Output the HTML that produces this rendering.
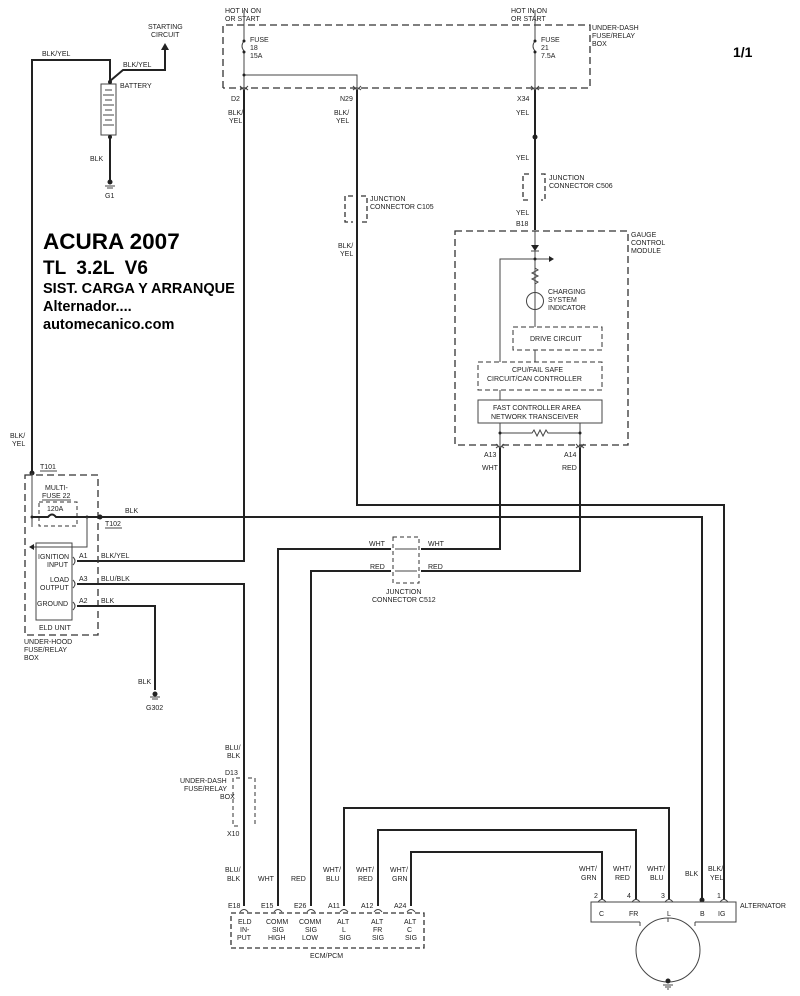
<!DOCTYPE html>
<html><head><meta charset="utf-8"><style>
html,body{margin:0;padding:0;background:#fff}
svg{display:block}
text{font-family:"Liberation Sans",sans-serif;font-size:7px;fill:#222}
.b{font-weight:bold;fill:#000}
.w{stroke:#222;stroke-width:2;fill:none}
.t{stroke:#444;stroke-width:1;fill:none}
.d{stroke:#333;stroke-width:1.3;fill:none;stroke-dasharray:7,4}
</style></head><body>
<svg width="800" height="996" viewBox="0 0 800 996" xmlns="http://www.w3.org/2000/svg">
<!-- title -->
<text x="43" y="249" class="b" style="font-size:22.5px">ACURA 2007</text>
<text x="43" y="274" class="b" style="font-size:19px" xml:space="preserve">TL  3.2L  V6</text>
<text x="43" y="293" class="b" style="font-size:14.5px">SIST. CARGA Y ARRANQUE</text>
<text x="43" y="311" class="b" style="font-size:14.5px">Alternador....</text>
<text x="43" y="329" class="b" style="font-size:14.5px">automecanico.com</text>
<text x="733" y="57" class="b" style="font-size:14px">1/1</text>

<!-- battery section -->
<path class="w" d="M32 473 V60 H110 V81"/>
<path class="w" d="M110 81 L123 70 H165 V48"/>
<polygon points="161,50 169,50 165,43" fill="#222"/>
<text x="148" y="29">STARTING</text><text x="151" y="37">CIRCUIT</text>
<text x="42" y="56">BLK/YEL</text>
<text x="123" y="67">BLK/YEL</text>
<rect x="101" y="84" width="15" height="51" class="t"/>
<path class="t" d="M105 90h7M103 95h11M105 100h7M103 105h11M105 110h7M103 115h11M105 120h7M103 125h11"/>
<text x="120" y="88">BATTERY</text>
<circle cx="110" cy="82" r="2" fill="#222"/>
<circle cx="110" cy="137" r="2" fill="#222"/>
<path class="w" d="M110 137 V180"/>
<text x="90" y="161">BLK</text>
<circle cx="110" cy="182" r="2.5" fill="#222"/><path class="t" d="M105 186h10M107 188h6"/>
<text x="105" y="198">G1</text>

<!-- under-dash box -->
<path class="d" d="M223 88 V25 H590 V88 H223"/>
<text x="225" y="13">HOT IN ON</text><text x="225" y="21">OR START</text>
<text x="511" y="13">HOT IN ON</text><text x="511" y="21">OR START</text>
<text x="592" y="30">UNDER-DASH</text><text x="592" y="38">FUSE/RELAY</text><text x="592" y="46">BOX</text>
<path class="t" d="M244 10 V40 M244 52 V88"/>
<path class="t" d="M244 41 q-4 5 0 10"/>
<circle cx="244" cy="41" r="1.5" fill="#222"/><circle cx="244" cy="52" r="1.5" fill="#222"/>
<text x="250" y="42">FUSE</text><text x="250" y="50">18</text><text x="250" y="58">15A</text>
<path class="t" d="M244 75 H357 V88"/><circle cx="244" cy="75" r="1.5" fill="#222"/>
<path class="t" d="M535 10 V40 M535 52 V88"/>
<path class="t" d="M535 41 q-4 5 0 10"/>
<circle cx="535" cy="41" r="1.5" fill="#222"/><circle cx="535" cy="52" r="1.5" fill="#222"/>
<text x="541" y="42">FUSE</text><text x="541" y="50">21</text><text x="541" y="58">7.5A</text>
<g class="t">
<path d="M240 86 l4 4 4-4 M240 90 q4-4 8 0"/>
<path d="M353 86 l4 4 4-4 M353 90 q4-4 8 0"/>
<path d="M531 86 l4 4 4-4 M531 90 q4-4 8 0"/>
</g>
<text x="231" y="101">D2</text><text x="340" y="101">N29</text><text x="517" y="101">X34</text>
<text x="228" y="115">BLK/</text><text x="229" y="123">YEL</text>
<text x="334" y="115">BLK/</text><text x="336" y="123">YEL</text>
<text x="516" y="115">YEL</text>

<path class="w" d="M244 90 V561 H77"/>
<path class="w" d="M357 90 V505 H724 V900"/>
<path class="d" d="M353 196 H345 V222 H353 M361 196 H367 V222 H361" style="stroke-dasharray:5,3"/>
<text x="370" y="201">JUNCTION</text><text x="370" y="209">CONNECTOR C105</text>
<text x="338" y="248">BLK/</text><text x="340" y="256">YEL</text>
<path class="w" d="M535 90 V230"/>
<circle cx="535" cy="137" r="2.5" fill="#222"/>
<text x="516" y="160">YEL</text>
<path class="d" d="M529 174 H523 V200 H529 M541 174 H545 V200 H541" style="stroke-dasharray:5,3"/>
<text x="549" y="180">JUNCTION</text><text x="549" y="188">CONNECTOR C506</text>
<text x="516" y="215">YEL</text><text x="516" y="226">B18</text>

<!-- gauge module -->
<path class="d" d="M455 231 H628 V445 H455 Z"/>
<text x="631" y="237">GAUGE</text><text x="631" y="245">CONTROL</text><text x="631" y="253">MODULE</text>
<path class="t" d="M535 231 V327"/>
<polygon points="531,245 539,245 535,251" fill="#222"/><path class="t" d="M531 251h8"/>
<path class="t" d="M500 362 V259 H550"/><polygon points="549,256 554,259 549,262" fill="#222"/>
<circle cx="535" cy="259" r="1.5" fill="#222"/>
<path class="t" d="M535 268 l3 2 -6 3 6 3 -6 3 6 3 -3 2" />
<circle cx="535" cy="301" r="8.5" class="t"/>
<text x="548" y="294">CHARGING</text><text x="548" y="302">SYSTEM</text><text x="548" y="310">INDICATOR</text>
<path class="d" d="M513 327 H602 V350 H513 Z" style="stroke-dasharray:5,3;stroke-width:1"/>
<text x="530" y="341">DRIVE CIRCUIT</text>
<path class="t" d="M535 350 V362"/>
<path class="d" d="M478 362 H602 V390 H478 Z" style="stroke-dasharray:5,3;stroke-width:1"/>
<text x="512" y="372">CPU/FAIL SAFE</text><text x="487" y="381">CIRCUIT/CAN CONTROLLER</text>
<path class="t" d="M500 390 V400"/>
<rect x="478" y="400" width="124" height="23" class="t"/>
<text x="493" y="410">FAST CONTROLLER AREA</text><text x="491" y="419">NETWORK TRANSCEIVER</text>
<path class="t" d="M500 423 V445 M580 423 V445 M500 433 H532 l2-3 3 6 3-6 3 6 3-6 2 3 H580"/>
<circle cx="500" cy="433" r="1.5" fill="#222"/><circle cx="580" cy="433" r="1.5" fill="#222"/>
<g class="t"><path d="M496 444 l4 4 4-4 M496 448 q4-4 8 0"/><path d="M576 444 l4 4 4-4 M576 448 q4-4 8 0"/></g>
<text x="484" y="457">A13</text><text x="564" y="457">A14</text>
<text x="482" y="470">WHT</text><text x="562" y="470">RED</text>
<path class="w" d="M500 448 V549 H421"/>
<path class="w" d="M580 448 V571 H421"/>
<path class="w" d="M391 549 H278 V906"/>
<path class="w" d="M391 571 H311 V906"/>
<path class="d" d="M393 537 H419 V583 H393 Z" style="stroke-dasharray:4,3;stroke-width:1"/>
<path class="t" d="M395 549 H417 M395 571 H417"/>
<text x="369" y="546">WHT</text><text x="428" y="546">WHT</text>
<text x="370" y="569">RED</text><text x="428" y="569">RED</text>
<text x="386" y="594">JUNCTION</text><text x="372" y="602">CONNECTOR C512</text>

<!-- under-hood box -->
<circle cx="32" cy="473" r="2.5" fill="#222"/>
<text x="10" y="438">BLK/</text><text x="12" y="446">YEL</text>
<text x="40" y="469">T101</text><path class="t" d="M40 471h17"/>
<path class="d" d="M25 475 H98 V635 H25 Z"/>
<text x="45" y="490">MULTI-</text><text x="42" y="498">FUSE 22</text><path class="t" d="M42 500h29"/>
<path class="d" d="M39 502 H77 V526 H39 Z" style="stroke-dasharray:4,3;stroke-width:1"/>
<text x="47" y="511">120A</text>
<path class="t" d="M32 473 V527"/>
<path class="w" d="M32 517 H48 q4 -5 8 0 H100 H702 V900"/>
<circle cx="100" cy="517" r="2.5" fill="#222"/><circle cx="32" cy="517" r="1.5" fill="#222"/><circle cx="87" cy="517" r="1.5" fill="#222"/>
<text x="125" y="513">BLK</text>
<text x="105" y="526">T102</text><path class="t" d="M105 528h17"/>
<path class="t" d="M87 517 V547 H33"/><polygon points="34,544 29,547 34,550" fill="#222"/>
<rect x="36" y="543" width="36" height="77" class="t"/>
<text x="38" y="559">IGNITION</text><text x="47" y="567">INPUT</text>
<text x="50" y="582">LOAD</text><text x="40" y="590">OUTPUT</text>
<text x="37" y="606">GROUND</text>
<text x="39" y="630">ELD UNIT</text>
<g class="t"><path d="M73 557 q4 4 0 8 M73 580 q4 4 0 8 M73 602 q4 4 0 8"/></g>
<text x="79" y="558">A1</text><text x="79" y="581">A3</text><text x="79" y="603">A2</text>
<text x="101" y="558">BLK/YEL</text><text x="101" y="581">BLU/BLK</text><text x="101" y="603">BLK</text>
<path class="w" d="M77 584 H244 V906"/>
<path class="w" d="M77 606 H155 V690"/>
<text x="24" y="644">UNDER-HOOD</text><text x="24" y="652">FUSE/RELAY</text><text x="24" y="660">BOX</text>
<text x="138" y="684">BLK</text>
<circle cx="155" cy="694" r="2.5" fill="#222"/><path class="t" d="M150 697h10M152 699h6"/>
<text x="146" y="710">G302</text>

<text x="225" y="750">BLU/</text><text x="227" y="758">BLK</text>
<text x="225" y="775">D13</text>
<path class="d" d="M240 778 H233 V826 H240 M248 778 H255 V826" style="stroke-dasharray:4,3;stroke-width:1"/>
<text x="180" y="783">UNDER-DASH</text><text x="184" y="791">FUSE/RELAY</text><text x="220" y="799">BOX</text>
<text x="227" y="836">X10</text>
<text x="225" y="872">BLU/</text><text x="227" y="881">BLK</text>
<text x="258" y="881">WHT</text><text x="291" y="881">RED</text>
<text x="323" y="872">WHT/</text><text x="326" y="881">BLU</text>
<text x="356" y="872">WHT/</text><text x="358" y="881">RED</text>
<text x="390" y="872">WHT/</text><text x="392" y="881">GRN</text>

<path class="w" d="M344 906 V808 H669 V900"/>
<path class="w" d="M378 906 V830 H636 V900"/>
<path class="w" d="M411 906 V852 H602 V900"/>

<!-- ECM -->
<path class="d" d="M231 913 H424 V948 H231 Z" style="stroke-dasharray:5,3"/>
<g class="t">
<path d="M240 912 q4-5 8 0 M274 912 q4-5 8 0 M307 912 q4-5 8 0 M340 912 q4-5 8 0 M374 912 q4-5 8 0 M407 912 q4-5 8 0"/>
</g>
<text x="228" y="908">E18</text><text x="261" y="908">E15</text><text x="294" y="908">E26</text>
<text x="328" y="908">A11</text><text x="361" y="908">A12</text><text x="394" y="908">A24</text>
<text x="238" y="924">ELD</text><text x="240" y="932">IN-</text><text x="237" y="940">PUT</text>
<text x="266" y="924">COMM</text><text x="272" y="932">SIG</text><text x="268" y="940">HIGH</text>
<text x="299" y="924">COMM</text><text x="305" y="932">SIG</text><text x="302" y="940">LOW</text>
<text x="337" y="924">ALT</text><text x="342" y="932">L</text><text x="339" y="940">SIG</text>
<text x="371" y="924">ALT</text><text x="373" y="932">FR</text><text x="372" y="940">SIG</text>
<text x="404" y="924">ALT</text><text x="407" y="932">C</text><text x="405" y="940">SIG</text>
<text x="310" y="958">ECM/PCM</text>

<!-- alternator -->
<text x="579" y="871">WHT/</text><text x="581" y="880">GRN</text>
<text x="613" y="871">WHT/</text><text x="615" y="880">RED</text>
<text x="647" y="871">WHT/</text><text x="650" y="880">BLU</text>
<text x="685" y="876">BLK</text>
<text x="708" y="871">BLK/</text><text x="710" y="880">YEL</text>
<text x="594" y="898">2</text><text x="627" y="898">4</text><text x="661" y="898">3</text><text x="717" y="898">1</text>
<g class="t"><path d="M598 902 q4-5 8 0 M632 902 q4-5 8 0 M665 902 q4-5 8 0 M720 902 q4-5 8 0"/></g>
<circle cx="702" cy="900" r="2.5" fill="#222"/>
<path class="t" d="M640 922 H591 V902 H736 V922 H695"/>
<path class="t" d="M640 922 V926 M695 922 V926"/>
<circle cx="668" cy="950" r="32" class="t"/>
<path class="t" d="M668 918 V922"/>
<text x="599" y="916">C</text><text x="629" y="916">FR</text><text x="667" y="916">L</text><text x="700" y="916">B</text><text x="718" y="916">IG</text>
<text x="740" y="908">ALTERNATOR</text>
<circle cx="668" cy="981" r="2.5" fill="#222"/><path class="t" d="M663 985h10M665 987h6M667 989h2"/>
</svg>
</body></html>
